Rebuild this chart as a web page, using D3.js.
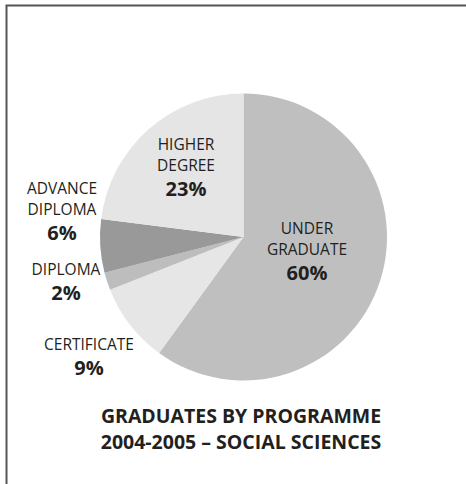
<!DOCTYPE html>
<html>
<head>
<meta charset="utf-8">
<script src="https://cdn.jsdelivr.net/npm/d3@7"></script>
<style>
  html, body { margin: 0; padding: 0; background: #fff; }
  svg { display: block; }
  text { font-family: "Open Sans", "Liberation Sans", sans-serif; fill: #231f20; }
</style>
</head>
<body>
<svg id="chart" width="466" height="484"></svg>
<script>
const categories = ["UNDER GRADUATE", "CERTIFICATE", "DIPLOMA", "ADVANCE DIPLOMA", "HIGHER DEGREE"];
const labelLines = [["UNDER", "GRADUATE"], ["CERTIFICATE"], ["DIPLOMA"], ["ADVANCE", "DIPLOMA"], ["HIGHER", "DEGREE"]];
const values = [60, 9, 2, 6, 23];
const sliceColors = ["#bfbfbf", "#e6e6e6", "#bdbdbd", "#999999", "#e5e5e5"];
const titleLines = ["GRADUATES BY PROGRAMME", "2004-2005 – SOCIAL SCIENCES"];
// label anchor positions (x centre, baseline of first line)
const labelPos = [[307, 234], [89, 350], [66, 275], [62, 194], [186, 150]];

const svg = d3.select("#chart");
const W = 466, H = 484;

// frame
svg.append("path")
  .attr("d", `M6.5,${H} L6.5,5.5 L${W},5.5`)
  .attr("fill", "none")
  .attr("stroke", "#555")
  .attr("stroke-width", 2);

const cx = 243.5, cy = 237, r = 143.5;
const pie = d3.pie().sort(null).value(d => d)(values);
const arc = d3.arc().innerRadius(0).outerRadius(r);
const g = svg.append("g").attr("transform", `translate(${cx},${cy})`);
g.selectAll("path").data(pie).join("path")
  .attr("d", arc)
  .attr("fill", (d, i) => sliceColors[i]);

const lg = svg.append("g");
categories.forEach((c, i) => {
  const [x, y] = labelPos[i];
  const lines = labelLines[i];
  lines.forEach((t, j) => {
    lg.append("text")
      .attr("x", x).attr("y", y + j * 21)
      .attr("text-anchor", "middle")
      .attr("font-size", 15.5)
      .text(t);
  });
  lg.append("text")
    .attr("x", x).attr("y", y + (lines.length - 1) * 21 + 25)
    .attr("text-anchor", "middle")
    .attr("font-size", 20)
    .attr("font-weight", "bold")
    .text(values[i] + "%");
});

titleLines.forEach((t, j) => {
  svg.append("text")
    .attr("x", 241).attr("y", 423 + j * 26)
    .attr("text-anchor", "middle")
    .attr("font-size", 19.5)
    .attr("font-weight", "bold")
    .text(t);
});
</script>
</body>
</html>
